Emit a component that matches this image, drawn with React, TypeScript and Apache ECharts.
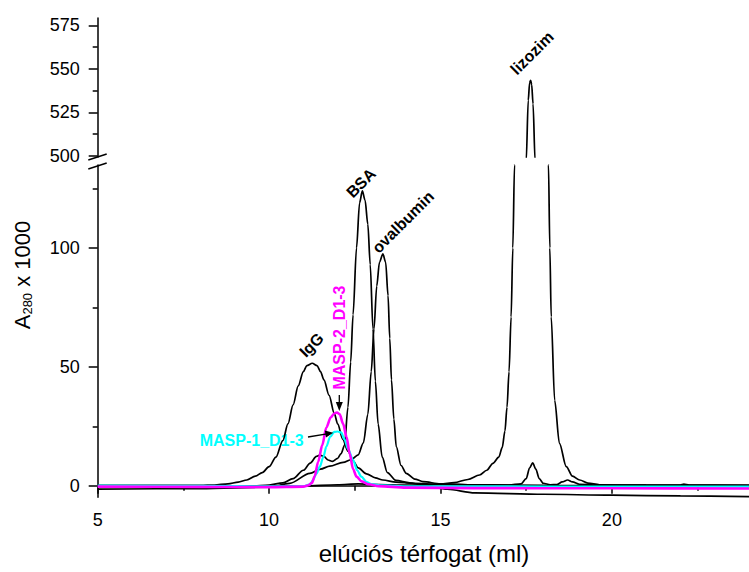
import React, { useEffect, useRef } from "react";
import * as echarts from "echarts";

// Axis tick positions
const xLabelValues = [5, 10, 15, 20];
const xMinorValues = [7.5, 12.5, 17.5, 22.5];
const lowerYLabelValues = [0, 50, 100];
const lowerYMinorValues = [25, 75, 125];
const upperYLabelValues = [500, 525, 550, 575];
const upperYMinorValues = [512.5, 537.5, 562.5];

// Elution profiles: [elution volume (ml), A280 x 1000]
const iggProfile: [number, number][] = [
  [5, 0.1], [7, 0.1], [8, 0.1], [8.4, 0.3], [8.8, 0.8], [9.1, 1.5], [9.35, 2.4], [9.6, 4],
  [9.8, 5.5], [10.0, 8], [10.2, 12], [10.4, 19], [10.55, 26], [10.7, 34], [10.85, 42],
  [11.0, 48], [11.1, 50.5], [11.26, 51.5], [11.4, 50.5], [11.5, 48], [11.6, 44.5],
  [11.75, 38], [11.9, 30.5], [12.0, 26], [12.15, 19.5], [12.3, 14.5], [12.45, 10.5],
  [12.6, 7.5], [12.84, 5], [13.1, 3.3], [13.32, 2.4], [13.7, 1.5], [14.2, 1.0], [15, 0.6],
  [16, 0.4], [17.0, 0.3], [17.35, 0.8], [17.5, 3], [17.6, 7.5], [17.69, 9.6], [17.78, 7],
  [17.88, 3], [18.0, 1.0], [18.2, 0.4], [18.4, 0.5], [18.55, 1.6], [18.71, 2.4], [18.85, 1.6],
  [19.05, 0.6], [19.5, 0.3], [21, 0.2], [22.0, 0.3], [22.1, 0.7], [22.25, 0.3], [24, 0.1],
];

const bsaProfile: [number, number][] = [
  [5, -0.8], [8, -0.6], [9.5, -0.2], [10, 0.3], [10.4, 1.2], [10.7, 3], [11.0, 6.5],
  [11.2, 9.5], [11.38, 12.3], [11.48, 12.9], [11.6, 12.3], [11.72, 10.8], [11.85, 10.2],
  [12.0, 11.5], [12.1, 13.5], [12.2, 17], [12.3, 33], [12.38, 52], [12.45, 72], [12.55, 100],
  [12.64, 119], [12.72, 124], [12.8, 120], [12.88, 110], [12.95, 93], [13.03, 66],
  [13.1, 44], [13.18, 26], [13.3, 12], [13.45, 5.5], [13.7, 2.2], [14.1, 1.2], [14.5, 0.2],
  [15.2, -1.5], [16, -3.0], [18, -3.6], [20, -4.0], [22, -4.3], [24, -4.6],
];

const ovalbuminProfile: [number, number][] = [
  [5, -1.5], [8, -1.2], [10, -0.6], [10.6, 1], [11.19, 5.2], [11.5, 7], [11.77, 8.2],
  [12.16, 9.8], [12.4, 11], [12.6, 13], [12.75, 18], [12.88, 30], [12.98, 48], [13.06, 66],
  [13.14, 84], [13.22, 94], [13.32, 97.5], [13.4, 94], [13.47, 80], [13.52, 62],
  [13.57, 44.5], [13.64, 28], [13.71, 16.4], [13.85, 8.5], [14.0, 5.2], [14.25, 2.8],
  [14.49, 1.7], [15, 0.8], [16, 0.3], [18, 0.1], [24, 0.0],
];

const lizozimProfile: [number, number][] = [
  [5, -0.4], [7, -0.4], [9, -0.3], [11, -0.1], [12, 0.4], [12.6, 0.8], [13.2, 0.5],
  [14, 0.2], [14.6, 0.4], [15, 0.7], [15.4, 1.3], [15.8, 2.6], [16.14, 4.5], [16.35, 6.5],
  [16.53, 9.4], [16.7, 12], [16.8, 16], [16.88, 23], [16.94, 33], [17.0, 48], [17.06, 71],
  [17.11, 100], [17.16, 135], [17.25, 220], [17.35, 330], [17.43, 420], [17.5, 497],
  [17.56, 532], [17.6, 542], [17.63, 543.5], [17.66, 541], [17.7, 530], [17.76, 497],
  [17.84, 415], [17.93, 310], [18.03, 215], [18.1, 165], [18.15, 135], [18.19, 100],
  [18.23, 71], [18.33, 36], [18.47, 17.8], [18.67, 8], [18.85, 4], [19.06, 2.4],
  [19.3, 1.1], [19.64, 0.4], [21, 0.2], [24, 0.1],
];

const masp1Profile: [number, number][] = [
  [5, 0.0], [8, -0.1], [10, -0.3], [11, -0.2], [11.2, 0.6], [11.28, 2.4], [11.38, 5],
  [11.48, 8], [11.58, 12], [11.67, 16.4], [11.78, 20.5], [11.9, 22.6], [12.0, 22.8],
  [12.1, 22.4], [12.2, 19.5], [12.3, 15.5], [12.45, 10.8], [12.57, 6.5], [12.69, 3.8],
  [12.85, 1.5], [12.98, 0.7], [13.3, 0.1], [14, -0.3], [24, -0.4],
];

const masp2Profile: [number, number][] = [
  [5, -0.4], [8, -0.5], [10, -0.6], [11, -0.4], [11.15, 0.2], [11.25, 1.2], [11.33, 4],
  [11.43, 10], [11.55, 17], [11.67, 24.5], [11.8, 28.8], [11.9, 30.4], [11.98, 30.8],
  [12.06, 30], [12.16, 26], [12.26, 20.5], [12.35, 13.5], [12.45, 7], [12.55, 3.8],
  [12.7, 1.8], [12.9, 0.6], [13.2, -0.2], [14, -0.8], [16, -1.0], [20, -1.1], [24, -1.2],
];

const FONT = "'Liberation Sans', Arial, Helvetica, sans-serif";
const MAGENTA = "#ff00ff";
const CYAN = "#00ffff";

export default function App() {
  const ref = useRef<HTMLDivElement>(null);

  useEffect(() => {
    document.body.style.margin = "0";
    if (!ref.current) return;
    const chart = echarts.init(ref.current, undefined, { renderer: "svg" });

    const axisLine = { show: true, lineStyle: { color: "#000", width: 1.5 } };
    const tickLabel = { color: "#000", fontSize: 18, fontFamily: FONT };

    const blackLine = (data: [number, number][], upper = false) => ({
      type: "line",
      data,
      xAxisIndex: upper ? 2 : 0,
      yAxisIndex: upper ? 2 : 0,
      symbol: "none",
      smooth: 0.3,
      smoothMonotone: "x",
      clip: true,
      silent: true,
      lineStyle: { color: "#000", width: 1.7 },
      z: 2,
    });

    chart.setOption({
      animation: false,
      backgroundColor: "#fff",
      grid: [
        { left: 97.7, top: 165, width: 651.3, height: 332.3 },
        { left: 97.7, top: 18, width: 651.3, height: 139 },
      ],
      xAxis: [
        {
          gridIndex: 0, type: "value", min: 5, max: 24, position: "bottom",
          axisLine,
          axisTick: { show: true, inside: false, length: 8, customValues: xLabelValues, lineStyle: { color: "#000", width: 1.5 } },
          axisLabel: { ...tickLabel, margin: 14, customValues: xLabelValues },
          splitLine: { show: false },
        },
        {
          gridIndex: 0, type: "value", min: 5, max: 24, position: "bottom",
          axisLine: { show: false },
          axisTick: { show: true, inside: false, length: 5, customValues: xMinorValues, lineStyle: { color: "#000", width: 1.5 } },
          axisLabel: { show: false },
          splitLine: { show: false },
        },
        {
          gridIndex: 1, type: "value", min: 5, max: 24, show: false,
        },
      ],
      yAxis: [
        {
          gridIndex: 0, type: "value", min: -4.88, max: 134.9, position: "left",
          axisLine,
          axisTick: { show: true, inside: false, length: 9, customValues: lowerYLabelValues, lineStyle: { color: "#000", width: 1.5 } },
          axisLabel: { ...tickLabel, margin: 18, customValues: lowerYLabelValues },
          splitLine: { show: false },
        },
        {
          gridIndex: 0, type: "value", min: -4.88, max: 134.9, position: "left",
          axisLine: { show: false },
          axisTick: { show: true, inside: false, length: 5, customValues: lowerYMinorValues, lineStyle: { color: "#000", width: 1.5 } },
          axisLabel: { show: false },
          splitLine: { show: false },
        },
        {
          gridIndex: 1, type: "value", min: 499.4, max: 579.3, position: "left",
          axisLine,
          axisTick: { show: true, inside: false, length: 9, customValues: upperYLabelValues, lineStyle: { color: "#000", width: 1.5 } },
          axisLabel: { ...tickLabel, margin: 18, customValues: upperYLabelValues },
          splitLine: { show: false },
        },
        {
          gridIndex: 1, type: "value", min: 499.4, max: 579.3, position: "left",
          axisLine: { show: false },
          axisTick: { show: true, inside: false, length: 5, customValues: upperYMinorValues, lineStyle: { color: "#000", width: 1.5 } },
          axisLabel: { show: false },
          splitLine: { show: false },
        },
      ],
      series: [
        blackLine(ovalbuminProfile),
        blackLine(lizozimProfile),
        blackLine(bsaProfile),
        blackLine(iggProfile),
        blackLine(lizozimProfile, true),
        {
          type: "line", data: masp1Profile, xAxisIndex: 0, yAxisIndex: 0, symbol: "none",
          smooth: 0.3, smoothMonotone: "x", silent: true,
          lineStyle: { color: CYAN, width: 2.2 }, z: 3,
        },
        {
          type: "line", data: masp2Profile, xAxisIndex: 0, yAxisIndex: 0, symbol: "none",
          smooth: 0.3, smoothMonotone: "x", silent: true,
          lineStyle: { color: MAGENTA, width: 2.6 }, z: 4,
        },
      ],
      graphic: [
        // axis break marks
        { type: "line", shape: { x1: 88.3, y1: 160, x2: 106.7, y2: 154 }, style: { stroke: "#000", lineWidth: 1.5 }, z: 10 },
        { type: "line", shape: { x1: 88.3, y1: 169, x2: 106.7, y2: 163 }, style: { stroke: "#000", lineWidth: 1.5 }, z: 10 },
        // axis titles
        {
          type: "text", x: 22, y: 275, rotation: Math.PI / 2,
          style: {
            text: "{a|A}{s|280}{a| x 1000}",
            textAlign: "center", textVerticalAlign: "middle",
            rich: {
              a: { fontSize: 22, fontFamily: FONT, fill: "#000" },
              s: { fontSize: 13, fontFamily: FONT, fill: "#000", padding: [10, 0, 0, 0] },
            },
          },
        },
        {
          type: "text", x: 424, y: 553,
          style: { text: "elúciós térfogat (ml)", fontSize: 24, fontFamily: FONT, fill: "#000", textAlign: "center", textVerticalAlign: "middle" },
        },
        // peak labels
        { type: "text", x: 311.5, y: 345, rotation: Math.PI / 4, style: { text: "IgG", fontSize: 16, fontWeight: "bold", fontFamily: FONT, fill: "#000", textAlign: "center", textVerticalAlign: "middle" } },
        { type: "text", x: 361, y: 183, rotation: Math.PI / 4, style: { text: "BSA", fontSize: 16, fontWeight: "bold", fontFamily: FONT, fill: "#000", textAlign: "center", textVerticalAlign: "middle" } },
        { type: "text", x: 403, y: 222, rotation: Math.PI / 4, style: { text: "ovalbumin", fontSize: 16, fontWeight: "bold", fontFamily: FONT, fill: "#000", textAlign: "center", textVerticalAlign: "middle" } },
        { type: "text", x: 532, y: 53, rotation: Math.PI / 4, style: { text: "lizozim", fontSize: 16, fontWeight: "bold", fontFamily: FONT, fill: "#000", textAlign: "center", textVerticalAlign: "middle" } },
        { type: "text", x: 339, y: 337.5, rotation: Math.PI / 2, style: { text: "MASP-2_D1-3", fontSize: 16, fontWeight: "bold", fontFamily: FONT, fill: MAGENTA, textAlign: "center", textVerticalAlign: "middle" } },
        { type: "text", x: 251.7, y: 440, style: { text: "MASP-1_D1-3", fontSize: 16, fontWeight: "bold", fontFamily: FONT, fill: CYAN, textAlign: "center", textVerticalAlign: "middle" } },
        // arrows
        { type: "line", shape: { x1: 339.3, y1: 395, x2: 339.3, y2: 404 }, style: { stroke: "#000", lineWidth: 1.3 }, z: 10 },
        { type: "polygon", shape: { points: [[335.8, 402], [342.8, 402], [339.3, 411]] }, style: { fill: "#000" }, z: 10 },
        { type: "line", shape: { x1: 308, y1: 437, x2: 327, y2: 433.8 }, style: { stroke: "#000", lineWidth: 1.3 }, z: 10 },
        { type: "polygon", shape: { points: [[326.0, 437.5], [324.8, 430.6], [333.3, 432.7]] }, style: { fill: "#000" }, z: 10 },
      ],
    });

    return () => chart.dispose();
  }, []);

  return <div ref={ref} style={{ width: 749, height: 572 }} />;
}
